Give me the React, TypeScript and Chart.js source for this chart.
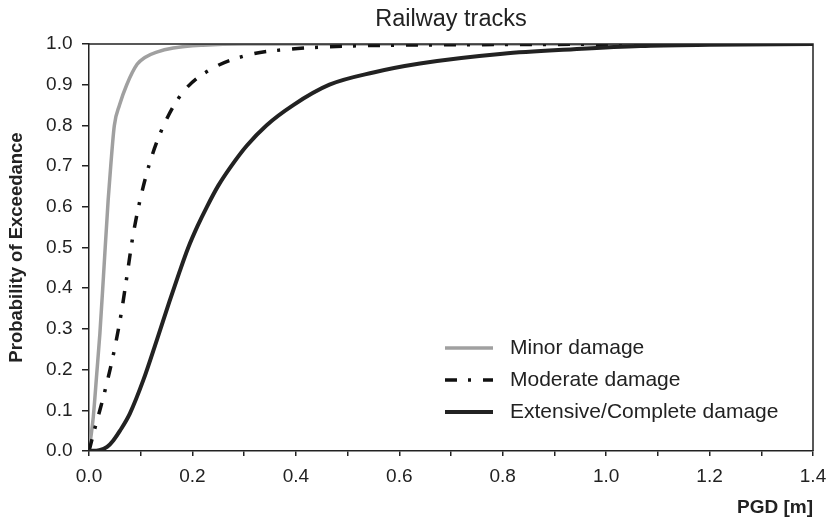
import React, { useEffect, useRef } from "react";
import { Chart, registerables } from "chart.js";

Chart.register(...registerables);

const chartTitle = "Railway tracks";
const xAxisTitle = "PGD [m]";
const yAxisTitle = "Probability of Exceedance";
const seriesNames = ["Minor damage", "Moderate damage", "Extensive/Complete damage"];

const minorX = [0, 0.0083, 0.015, 0.021, 0.028, 0.037, 0.042, 0.049, 0.059, 0.073, 0.093, 0.108, 0.131, 0.163, 0.22, 0.30, 0.5, 1.0, 1.4];
const minorY = [0, 0.084, 0.19, 0.288, 0.43, 0.616, 0.7, 0.8, 0.85, 0.9, 0.95, 0.967, 0.98, 0.99, 0.997, 1.0, 1.0, 1.0, 1.0];

const moderateX = [0, 0.0116, 0.021, 0.031, 0.048, 0.062, 0.0735, 0.0845, 0.099, 0.118, 0.144, 0.182, 0.24, 0.311, 0.386, 0.462, 0.537, 0.7, 0.9, 1.4];
const moderateY = [0, 0.057, 0.1, 0.149, 0.242, 0.336, 0.431, 0.525, 0.618, 0.71, 0.799, 0.882, 0.941, 0.974, 0.987, 0.993, 0.996, 0.998, 0.999, 1.0];

const extensiveX = [0, 0.02, 0.035, 0.047, 0.06, 0.079, 0.105, 0.131, 0.155, 0.175, 0.192, 0.21, 0.228, 0.25, 0.275, 0.305, 0.343, 0.395, 0.465, 0.55, 0.64, 0.80, 0.937, 1.066, 1.2, 1.4];
const extensiveY = [0, 0.002, 0.01, 0.026, 0.05, 0.092, 0.174, 0.272, 0.365, 0.44, 0.5, 0.553, 0.6, 0.652, 0.7, 0.75, 0.8, 0.85, 0.9, 0.93, 0.952, 0.976, 0.987, 0.995, 0.998, 1.0];

const FONT = "'Liberation Sans', Arial, Helvetica, sans-serif";
const INK = "#222222";

const toPoints = (xs: number[], ys: number[]) => xs.map((x, i) => ({ x, y: ys[i] }));

const boxPlugin = {
  id: "plotBox",
  afterDraw(chart: any) {
    const { ctx, chartArea } = chart;
    ctx.save();
    ctx.strokeStyle = INK;
    ctx.lineWidth = 1.5;
    ctx.beginPath();
    ctx.moveTo(chartArea.left, chartArea.top);
    ctx.lineTo(chartArea.right, chartArea.top);
    ctx.lineTo(chartArea.right, chartArea.bottom);
    ctx.stroke();
    ctx.restore();
  },
};

const legendPlugin = {
  id: "insideLegend",
  afterDraw(chart: any) {
    const { ctx } = chart;
    const lineX0 = 445;
    const lineX1 = 493;
    const textX = 510;
    const rowY = [348, 380, 412];
    ctx.save();
    chart.data.datasets.forEach((ds: any, i: number) => {
      const y = rowY[i];
      ctx.strokeStyle = ds.borderColor;
      ctx.lineWidth = ds.borderWidth;
      ctx.setLineDash(ds.borderDash || []);
      ctx.lineCap = "butt";
      ctx.beginPath();
      ctx.moveTo(lineX0, y);
      ctx.lineTo(lineX1, y);
      ctx.stroke();
      ctx.setLineDash([]);
      ctx.fillStyle = INK;
      ctx.font = `21px ${FONT}`;
      ctx.textAlign = "left";
      ctx.textBaseline = "middle";
      ctx.fillText(ds.label, textX, y);
    });
    ctx.restore();
  },
};

export default function App() {
  const canvasRef = useRef<HTMLCanvasElement | null>(null);

  useEffect(() => {
    const canvas = canvasRef.current;
    if (!canvas) return;
    const chart = new Chart(canvas, {
      type: "line",
      data: {
        datasets: [
          {
            label: seriesNames[0],
            data: toPoints(minorX, minorY),
            borderColor: "#a0a0a0",
            borderWidth: 3.5,
            pointRadius: 0,
            cubicInterpolationMode: "monotone",
            fill: false,
            order: 3,
          },
          {
            label: seriesNames[1],
            data: toPoints(moderateX, moderateY),
            borderColor: "#111111",
            borderWidth: 3.5,
            borderDash: [12, 11, 3, 12],
            pointRadius: 0,
            cubicInterpolationMode: "monotone",
            fill: false,
            order: 2,
          },
          {
            label: seriesNames[2],
            data: toPoints(extensiveX, extensiveY),
            borderColor: "#222222",
            borderWidth: 4,
            pointRadius: 0,
            cubicInterpolationMode: "monotone",
            fill: false,
            order: 1,
          },
        ],
      },
      options: {
        responsive: false,
        animation: false,
        layout: { padding: { left: 0, right: 18, top: 0, bottom: 0 } },
        plugins: {
          legend: { display: false },
          tooltip: { enabled: false },
          title: {
            display: true,
            text: chartTitle,
            fullSize: false,
            color: INK,
            font: { family: FONT, size: 23.5, weight: "normal" },
            padding: { top: 5, bottom: 10.8 },
          },
        },
        scales: {
          x: {
            type: "linear",
            min: 0,
            max: 1.4,
            afterFit: (scale: any) => {
              scale.height = 74;
              scale.paddingLeft = 0;
              scale.paddingRight = 0;
            },
            ticks: {
              stepSize: 0.1,
              autoSkip: false,
              maxRotation: 0,
              color: INK,
              padding: 9.5,
              font: { family: FONT, size: 19 },
              callback: (value: any, index: number) => (index % 2 === 0 ? Number(value).toFixed(1) : ""),
            },
            grid: { display: true, drawOnChartArea: false, drawTicks: true, tickLength: 5, color: INK, lineWidth: 1.5 },
            border: { display: true, color: INK, width: 1.5 },
            title: {
              display: true,
              text: xAxisTitle,
              align: "end",
              color: INK,
              font: { family: FONT, size: 19, weight: "bold" },
              padding: { top: 0, bottom: 6 },
            },
          },
          y: {
            type: "linear",
            min: 0,
            max: 1,
            afterFit: (scale: any) => {
              scale.width = 89;
            },
            ticks: {
              stepSize: 0.1,
              color: INK,
              padding: 9.5,
              font: { family: FONT, size: 19 },
              callback: (value: any) => Number(value).toFixed(1),
            },
            grid: { display: true, drawOnChartArea: false, drawTicks: true, tickLength: 7, color: INK, lineWidth: 1.5 },
            border: { display: true, color: INK, width: 1.5 },
            title: {
              display: true,
              text: yAxisTitle,
              color: INK,
              font: { family: FONT, size: 18.5, weight: "bold" },
              padding: { top: 6, bottom: 0 },
            },
          },
        },
      },
      plugins: [boxPlugin, legendPlugin],
    } as any);
    return () => chart.destroy();
  }, []);

  return (
    <div style={{ position: "fixed", left: 0, top: 0, width: 831, height: 525, background: "#ffffff" }}>
      <canvas ref={canvasRef} width={831} height={525} />
    </div>
  );
}
